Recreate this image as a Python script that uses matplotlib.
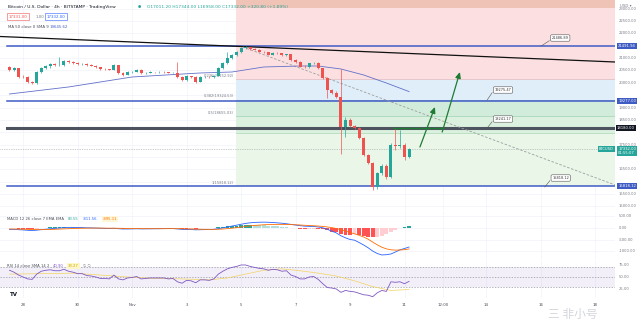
import matplotlib
matplotlib.use("Agg")
import matplotlib.pyplot as plt

# ---------------- data (BTC/USD 4h, BITSTAMP) ----------------
opens = [20640, 20520, 20590, 20240, 20230, 20030, 19990, 20440, 20600, 20680,
         20760, 20720, 20740, 20880, 20840, 20810, 20760, 20770, 20720, 20700,
         20640, 20560, 20550, 20540, 20720, 20400, 20330, 20440, 20450, 20520,
         20390, 20400, 20430, 20420, 20440, 20430, 20400, 20410, 20240, 20110,
         20270, 20240, 20040, 20230, 20240, 20220, 20290, 20600, 20800, 21000,
         21130, 21250, 21410, 21450, 21390, 21340, 21260, 21230, 21140, 21200,
         21190, 21120, 21150, 20920, 20850, 20660, 20640, 20790, 20810, 20600,
         20200, 19710, 19600, 19430, 18220, 18500, 18260, 18170, 17760, 17080,
         16750, 15800, 16330, 16640, 16200, 17500, 17440, 17480, 17011.2]
closes = [20520, 20590, 20240, 20230, 20030, 19990, 20440, 20600, 20680, 20760,
          20720, 20740, 20880, 20840, 20810, 20760, 20770, 20720, 20700, 20640,
          20560, 20550, 20540, 20720, 20400, 20330, 20440, 20450, 20520, 20390,
          20400, 20430, 20420, 20440, 20430, 20400, 20410, 20240, 20110, 20270,
          20240, 20040, 20230, 20240, 20220, 20290, 20600, 20800, 21000, 21130,
          21250, 21410, 21450, 21390, 21340, 21260, 21230, 21140, 21200, 21190,
          21120, 21150, 20920, 20850, 20660, 20640, 20790, 20810, 20600, 20200,
          19710, 19600, 19430, 18220, 18500, 18260, 18170, 17760, 17080, 16750,
          15800, 16330, 16640, 16200, 17500, 17440, 17480, 17011.2, 17332]
highs = [20700, 20650, 20620, 20300, 20260, 20080, 20470, 20640, 20720, 20790,
         20800, 21050, 20920, 20910, 20870, 20840, 20800, 20790, 20750, 20720,
         20660, 20590, 20580, 20760, 20740, 20440, 20470, 20480, 20550, 20560,
         20430, 20460, 20450, 20460, 20460, 20450, 20430, 20840, 20260, 20300,
         20290, 20280, 20260, 20270, 20260, 20320, 20640, 20840, 21250, 21170,
         21290, 21440, 21480, 21470, 21420, 21370, 21290, 21260, 21230, 21230,
         21220, 21180, 21180, 20950, 20880, 20720, 20820, 20840, 20850, 20620,
         20230, 19760, 19650, 20560, 18620, 18560, 18300, 18200, 17800, 17110,
         16790, 16380, 16700, 16720, 17580, 18150, 18100, 17550, 17344]
lows = [20480, 20480, 20200, 20180, 19990, 19950, 19960, 20400, 20560, 20620,
        20680, 20690, 20700, 20800, 20780, 20730, 20730, 20690, 20670, 20610,
        20530, 20520, 20510, 20500, 20350, 20290, 20300, 20410, 20420, 20360,
        20360, 20380, 20400, 20400, 20410, 20380, 20380, 20200, 20080, 20090,
        20210, 20000, 20020, 20200, 20190, 20190, 20270, 20560, 20760, 20960,
        21100, 21220, 21380, 21350, 21310, 21230, 21200, 21110, 21110, 21160,
        21090, 21080, 20890, 20810, 20630, 20600, 20610, 20760, 20570, 20160,
        19390, 19560, 19400, 17120, 17820, 18200, 18120, 17720, 17020, 16700,
        15660, 15700, 16280, 16120, 16150, 17300, 17380, 16880, 16958]

# MA 50 (read at a few candles)
ma_idx = [0, 13, 27, 42, 49, 56, 64, 68, 73, 78, 83, 88]
ma_val = [19548, 19832, 20237, 20399, 20439, 20642, 20682, 20682, 20561, 20318, 19994, 19645.62]

# MACD 12 26 7
macd_line = [-60, -58, -72, -82, -98, -109, -93, -69, -52, -32,
             -15, -1, 13, 16, 18, 16, 13, 9, 4, -1,
             -10, -16, -20, -12, -30, -42, -42, -38, -33, -37,
             -36, -34, -31, -29, -25, -24, -22, -40, -57, -64,
             -65, -77, -73, -68, -64, -56, -27, 7, 44, 82,
             120, 160, 195, 222, 238, 247, 250, 245, 234, 220,
             203, 182, 154, 126, 100, 78, 71, 65, 45, 8,
             -55, -135, -212, -332, -420, -490, -520, -620, -725, -845,
             -985, -1090, -1150, -1140, -1110, -1025, -930, -875, -811.56]
macd_signal = [-40, -43, -47, -52, -58, -64, -68, -69, -67, -62,
               -55, -46, -37, -29, -22, -16, -11, -7, -4, -3,
               -4, -6, -8, -9, -12, -16, -20, -23, -25, -27,
               -28, -29, -29, -29, -28, -27, -26, -28, -33, -38,
               -43, -49, -53, -56, -58, -58, -53, -43, -28, -8,
               15, 40, 65, 90, 110, 125, 138, 147, 152, 155,
               155, 152, 146, 138, 128, 116, 105, 95, 83, 68,
               45, 15, -22, -72, -130, -190, -250, -310, -385, -480,
               -600, -720, -820, -890, -930, -945, -940, -925, -895.11]
macd_hist = [-20, -15, -25, -30, -40, -45, -25, 0, 15, 30,
             40, 45, 50, 45, 40, 32, 24, 16, 8, 2,
             -6, -10, -12, -3, -18, -26, -22, -15, -8, -10,
             -8, -5, -2, 0, 3, 3, 4, -12, -24, -26,
             -22, -28, -20, -12, -6, 2, 26, 50, 72, 90,
             105, 120, 130, 132, 128, 122, 112, 98, 82, 65,
             48, 30, 8, -12, -28, -38, -34, -30, -38, -60,
             -100, -150, -190, -260, -290, -300, -270, -310, -340, -365,
             -385, -370, -330, -250, -180, -80, 10, 50, 83.55]

# RSI 14
rsi = [64, 60, 54, 50, 46, 45, 56, 62, 64, 65,
       63, 63, 66, 62, 60, 57, 57, 53, 52, 50,
       47, 47, 46, 54, 46, 44, 48, 49, 51, 46,
       47, 48, 48, 48, 48, 46, 47, 40, 37, 43,
       42, 38, 44, 44, 43, 46, 56, 62, 67, 70,
       72, 75, 75, 72, 70, 68, 67, 64, 66, 65,
       62, 63, 54, 51, 46, 46, 50, 51, 45, 36,
       28, 27, 25, 18, 22, 20, 19, 16, 13, 12,
       9, 17, 22, 20, 40, 39, 40, 36, 40.9]
rsi_ma_idx = [0, 8, 14, 20, 26, 32, 38, 44, 48, 52, 56, 60, 64, 68, 72, 76, 80, 84, 88]
rsi_ma_val = [56, 57, 58, 54, 50, 47, 46, 44, 48, 56, 64, 67, 63, 58, 52, 42, 30, 22, 24]

date_labels = ["28", "30", "Nov", "3", "5", "7", "9", "11", "12:00", "14", "16", "18"]
date_pos = [3, 15, 27, 39, 51, 63, 75, 87, 95.5, 105, 117, 129]

fib_top, fib_bottom = 21491.94, 15818.12
fib_start = 49.8
blue_levels = [21491.94, 19277.00, 15818.12]
dark_level = 18180
last_price = 17332.00
trend_pts = ([-2.1, 133.4], [21877, 20844])
dash_pts = ([51.4, 133.4], [21452, 15863])
green_seg = ([84.5, 95.5], [18171, 18171])
arrows = [((90.4, 17402), (93.7, 19022)), ((95.3, 18009), (99.2, 20439))]
notes = [("21486.89", 117.1, 21492, 121.3, 21816),
         ("19275.47", 105.2, 19305, 108.7, 19710),
         ("18241.17", 105.2, 18171, 108.7, 18535),
         ("15818.12", 117.9, 15781, 121.4, 16146)]

# ---------------- figure ----------------
W, H = 642, 325
UP, DOWN = "#26a69a", "#ef5350"
fig = plt.figure(figsize=(W / 100, H / 100), dpi=100)


def fx(px):
    return px / W


def fy(py):
    return 1 - py / H


PR = 615
ax = fig.add_axes([0, fy(210), PR / W, 210 / H])
axm = fig.add_axes([0, fy(260), PR / W, 49 / H])
axr = fig.add_axes([0, fy(298), PR / W, 37 / H])
xmin, xmax = -2.09, 133.36
for a in (ax, axm, axr):
    a.set_xlim(xmin, xmax)
    a.set_xticks([])
    a.set_yticks([])
    for s in a.spines.values():
        s.set_visible(False)
    for d in date_pos:
        a.axvline(d, color="#f0f3fa", lw=0.5, zorder=0.1)
ax.set_ylim(14850, 23355)
axm.set_ylim(-1366, 726)
axr.set_ylim(6.25, 83.3)
for a in (ax, axm):
    a.axhline(a.get_ylim()[0], color="#e0e3eb", lw=0.6)

# price grid
price_ticks = list(range(15000, 23001, 500))
for p in price_ticks:
    ax.axhline(p, color="#f0f3fa", lw=0.5, zorder=0.1)

# fib zones
rng = fib_top - fib_bottom


def lvl(v):
    return fib_top - v * rng


zones = [(-0.8, -0.272, "#efc3b6"), (-0.272, 0.236, "#fce0e1"), (0.236, 0.382, "#e0eefa"),
         (0.382, 0.5, "#d2ecdc"), (0.5, 0.618, "#dbf0df"), (0.618, 1.0, "#e9f6e8")]
for a0, a1, c in zones:
    ax.fill_between([fib_start, xmax], lvl(a1), lvl(a0), color=c, lw=0, zorder=0.2)
for v, c in [(0.236, "#e8b8bc"), (0.382, "#a9cbe8"), (0.5, "#9fd3b4"), (0.618, "#a7d8b5")]:
    ax.plot([fib_start, xmax], [lvl(v)] * 2, color=c, lw=0.5, zorder=0.3)
for v, txt in [(0.236, "0.236(20152.92)"), (0.382, "0.382(19324.53)"), (0.5, "0.5(18655.03)"),
               (0.618, "0.618(17985.53)"), (1.0, "1(15818.12)")]:
    ax.text(fib_start - 0.4, lvl(v) + 60, txt, ha="right", va="bottom", fontsize=2.6, color="#787b86")

# horizontal lines
for p in blue_levels:
    ax.plot([-0.5, xmax], [p, p], color="#3f5bc4", lw=1.1, zorder=3)
ax.plot([-0.5, xmax], [dark_level, dark_level], color="#4d535e", lw=2.2, zorder=3)
ax.plot(*green_seg, color="#1e7b34", lw=1.0, zorder=4)
ax.plot([xmin, xmax], [last_price, last_price], color="#9aa0a6", lw=0.5, ls=(0, (1, 1.5)), zorder=2)

# trend lines
ax.plot(*trend_pts, color="#111111", lw=0.9, zorder=4)
ax.plot(*dash_pts, color="#9e9e9e", lw=0.6, ls=(0, (3, 2)), zorder=4)
ax.plot(ma_idx, ma_val, color="#6270c9", lw=0.6, zorder=4)

# candles
idx = list(range(len(closes)))
cols = [UP if c >= o else DOWN for o, c in zip(opens, closes)]
ax.vlines(idx, lows, highs, colors=cols, lw=0.5, zorder=5)
ax.bar(idx, [max(abs(c - o), 14) for o, c in zip(opens, closes)],
       bottom=[min(o, c) for o, c in zip(opens, closes)], width=0.66, color=cols, lw=0, zorder=6)

# arrows
for (x0, y0), (x1, y1) in arrows:
    ax.annotate("", xy=(x1, y1), xytext=(x0, y0),
                arrowprops=dict(arrowstyle="-|>,head_length=0.35,head_width=0.16",
                                color="#1e7b34", lw=0.9, shrinkA=0, shrinkB=0), zorder=7)

# price notes
for txt, ax_i, ax_p, bx_i, bx_p in notes:
    ax.plot([ax_i, bx_i - 2.4], [ax_p, bx_p - 110], color="#555555", lw=0.4, zorder=7)
    ax.text(bx_i, bx_p, txt, ha="center", va="center", fontsize=2.5, color="#333333", zorder=8,
            bbox=dict(boxstyle="round,pad=0.35", fc="white", ec="#555555", lw=0.4))

# right price scale
tr = ax.get_yaxis_transform()
special = blue_levels + [dark_level, last_price - 120]
for p in price_ticks:
    if 14850 < p < 23355 and all(abs(p - s) > 230 for s in special):
        ax.text(1.006, p, f"{p:.2f}", transform=tr, fontsize=2.7, color="#787b86",
                va="center", ha="left", clip_on=False)
for p in blue_levels:
    ax.text(1.005, p, f"{p:.2f}", transform=tr, fontsize=2.7, color="white", va="center",
            ha="left", clip_on=False, bbox=dict(boxstyle="square,pad=0.3", fc="#3f5bc4", ec="none"))
ax.text(1.003, dark_level, f"{dark_level:.2f}", transform=tr, fontsize=2.7, color="white",
        va="center", ha="left", clip_on=False,
        bbox=dict(boxstyle="square,pad=0.3", fc="#131722", ec="none"))
ax.text(1.005, last_price - 100, f"{last_price:.2f}\n01:55:07", transform=tr, fontsize=2.7,
        color="white", va="center", ha="left", clip_on=False, linespacing=1.1,
        bbox=dict(boxstyle="square,pad=0.3", fc=UP, ec="none"))
ax.text(0.998, last_price, "BTCUSD", transform=tr, fontsize=2.6, color="white", va="center",
        ha="right", clip_on=False, bbox=dict(boxstyle="square,pad=0.3", fc=UP, ec="none"))
fig.text(fx(620), fy(6), "USD ▾", fontsize=2.8, color="#787b86", va="center")

# MACD pane
hcols = []
for i, v in enumerate(macd_hist):
    prev = macd_hist[i - 1] if i else v
    if v >= 0:
        hcols.append("#26a69a" if v >= prev else "#b2dfdb")
    else:
        hcols.append("#ff5252" if v <= prev else "#ffcdd2")
axm.bar(idx, macd_hist, width=0.85, color=hcols, lw=0, zorder=2)
axm.plot(idx, macd_line, color="#2962ff", lw=0.6, zorder=3)
axm.plot(idx, macd_signal, color="#ff6d00", lw=0.6, zorder=3)
for p in [500, 0, -500, -1000]:
    axm.axhline(p, color="#f0f3fa", lw=0.5, zorder=0.1)
    axm.text(1.006, p, f"{p:.2f}", transform=axm.get_yaxis_transform(), fontsize=2.7,
             color="#787b86", va="center", ha="left", clip_on=False)

# RSI pane
axr.fill_between([xmin, xmax], 30, 70, color="#7e57c2", alpha=0.09, lw=0, zorder=0.2)
for p in [70, 50, 30]:
    axr.axhline(p, color="#9598a1", lw=0.5, ls=(0, (2, 2)), zorder=1)
axr.plot(rsi_ma_idx, rsi_ma_val, color="#f2d35e", lw=0.5, zorder=2)
axr.plot(idx, rsi, color="#7e57c2", lw=0.6, zorder=3)
for p in [75, 50, 25]:
    axr.text(1.006, p, f"{p:.2f}", transform=axr.get_yaxis_transform(), fontsize=2.7,
             color="#787b86", va="center", ha="left", clip_on=False)

# date labels
for lab, d in zip(date_labels, date_pos):
    axr.text(d, -0.2, lab, transform=axr.get_xaxis_transform(), fontsize=2.8, color="#4a4e59",
             ha="center", va="center", clip_on=False)

# header / legends
fig.text(fx(8), fy(7), "Bitcoin / U.S. Dollar · 4h · BITSTAMP · TradingView", fontsize=3.2,
         color="#131722", va="center")
fig.text(fx(138), fy(7), "●", fontsize=2.6, color=UP, va="center")
fig.text(fx(147), fy(7), "O17011.20 H17344.00 L16958.00 C17332.00 +320.80 (+1.89%)", fontsize=3.2,
         color=UP, va="center")
fig.text(fx(9), fy(16.5), "17331.00", fontsize=2.8, color=DOWN, va="center",
         bbox=dict(boxstyle="square,pad=0.4", fc="white", ec=DOWN, lw=0.4))
fig.text(fx(36), fy(16.5), "1.00", fontsize=2.8, color="#787b86", va="center")
fig.text(fx(47), fy(16.5), "17332.00", fontsize=2.8, color="#2962ff", va="center",
         bbox=dict(boxstyle="square,pad=0.4", fc="white", ec="#2962ff", lw=0.4))
fig.text(fx(8), fy(27), "MA 50 close 0 SMA 9", fontsize=2.8, color="#4a4e59", va="center")
fig.text(fx(50), fy(27), "19645.62", fontsize=2.8, color="#3f5bc4", va="center")

fig.text(fx(7), fy(219), "MACD 12 26 close 7 EMA EMA", fontsize=2.7, color="#4a4e59", va="center")
fig.text(fx(68), fy(219), "83.55", fontsize=2.7, color=UP, va="center")
fig.text(fx(83), fy(219), "-811.56", fontsize=2.7, color="#2962ff", va="center")
fig.text(fx(103), fy(219), "-895.11", fontsize=2.7, color="#ff6d00", va="center",
         bbox=dict(boxstyle="square,pad=0.2", fc="#fff6d6", ec="none"))

fig.text(fx(7), fy(266), "RSI 14 close SMA 14 2", fontsize=2.7, color="#4a4e59", va="center")
fig.text(fx(53), fy(266), "40.90", fontsize=2.7, color="#7e57c2", va="center")
fig.text(fx(68), fy(266), "33.27", fontsize=2.7, color="#c9a800", va="center",
         bbox=dict(boxstyle="square,pad=0.2", fc="#fff6c8", ec="none"))
fig.text(fx(83), fy(266), "∅ ∅", fontsize=2.7, color="#787b86", va="center")
fig.text(fx(10), fy(294), "TV", fontsize=4, color="#131722", weight="bold", va="center")

fig.text(fx(548), fy(314), "三 非小号", fontsize=8.5, color="#c9ccd4", alpha=0.8, va="center",
         family=["Noto Sans CJK SC", "DejaVu Sans"])

fig.savefig("out.png", dpi=100, facecolor="white")
